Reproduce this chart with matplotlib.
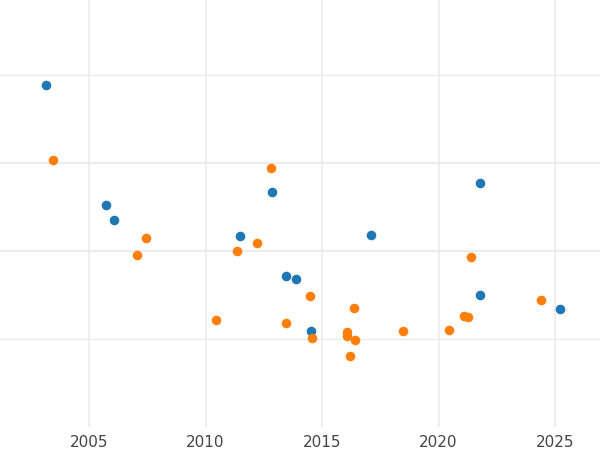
import matplotlib
matplotlib.use("Agg")
import matplotlib.pyplot as plt

blue_x = [2003.15, 2005.73, 2006.07, 2011.49, 2012.87, 2013.47, 2013.88, 2014.53,
          2017.12, 2021.78, 2021.78, 2025.21]
blue_y = [3.886, 2.523, 2.352, 2.170, 2.667, 1.713, 1.678, 1.088,
          2.182, 2.769, 1.500, 1.344]

orange_x = [2003.45, 2007.06, 2007.45, 2010.46, 2011.34, 2012.21, 2012.80, 2013.47,
            2014.48, 2014.56, 2016.06, 2016.06, 2016.19, 2016.37, 2016.43, 2018.48,
            2020.44, 2021.11, 2021.25, 2021.39, 2024.40]
orange_y = [3.034, 1.955, 2.148, 1.219, 2.000, 2.091, 2.940, 1.185,
            1.492, 1.015, 1.083, 1.034, 0.810, 1.356, 0.989, 1.094,
            1.102, 1.265, 1.247, 1.932, 1.447]

x_ticks = [2005, 2010, 2015, 2020, 2025]
y_grid = [1, 2, 3, 4]

fig = plt.figure(figsize=(6, 4.5), dpi=100)
ax = fig.add_axes([0, 1 - 427 / 450, 1, 427 / 450])
ax.set_xlim(2001.18, 2026.93)
ax.set_ylim(0, 427 / 88)

for gy in y_grid:
    ax.axhline(gy, color="#ebebeb", lw=1.3 if gy in (2, 3) else 1.0, zorder=0)
for gx in x_ticks:
    ax.axvline(gx, color="#ebebeb", lw=1.2, zorder=0)

ax.scatter(blue_x, blue_y, s=48, color="#1f77b4", linewidths=0, zorder=3)
ax.scatter(orange_x, orange_y, s=48, color="#ff7f0e", linewidths=0, zorder=3)

ax.set_xticks(x_ticks)
ax.set_xticklabels([str(t) for t in x_ticks], fontsize=11, color="#444444")
ax.set_yticks([])
ax.tick_params(axis="x", length=0, pad=6)
for s in ax.spines.values():
    s.set_visible(False)

fig.savefig("out.png", dpi=100)
